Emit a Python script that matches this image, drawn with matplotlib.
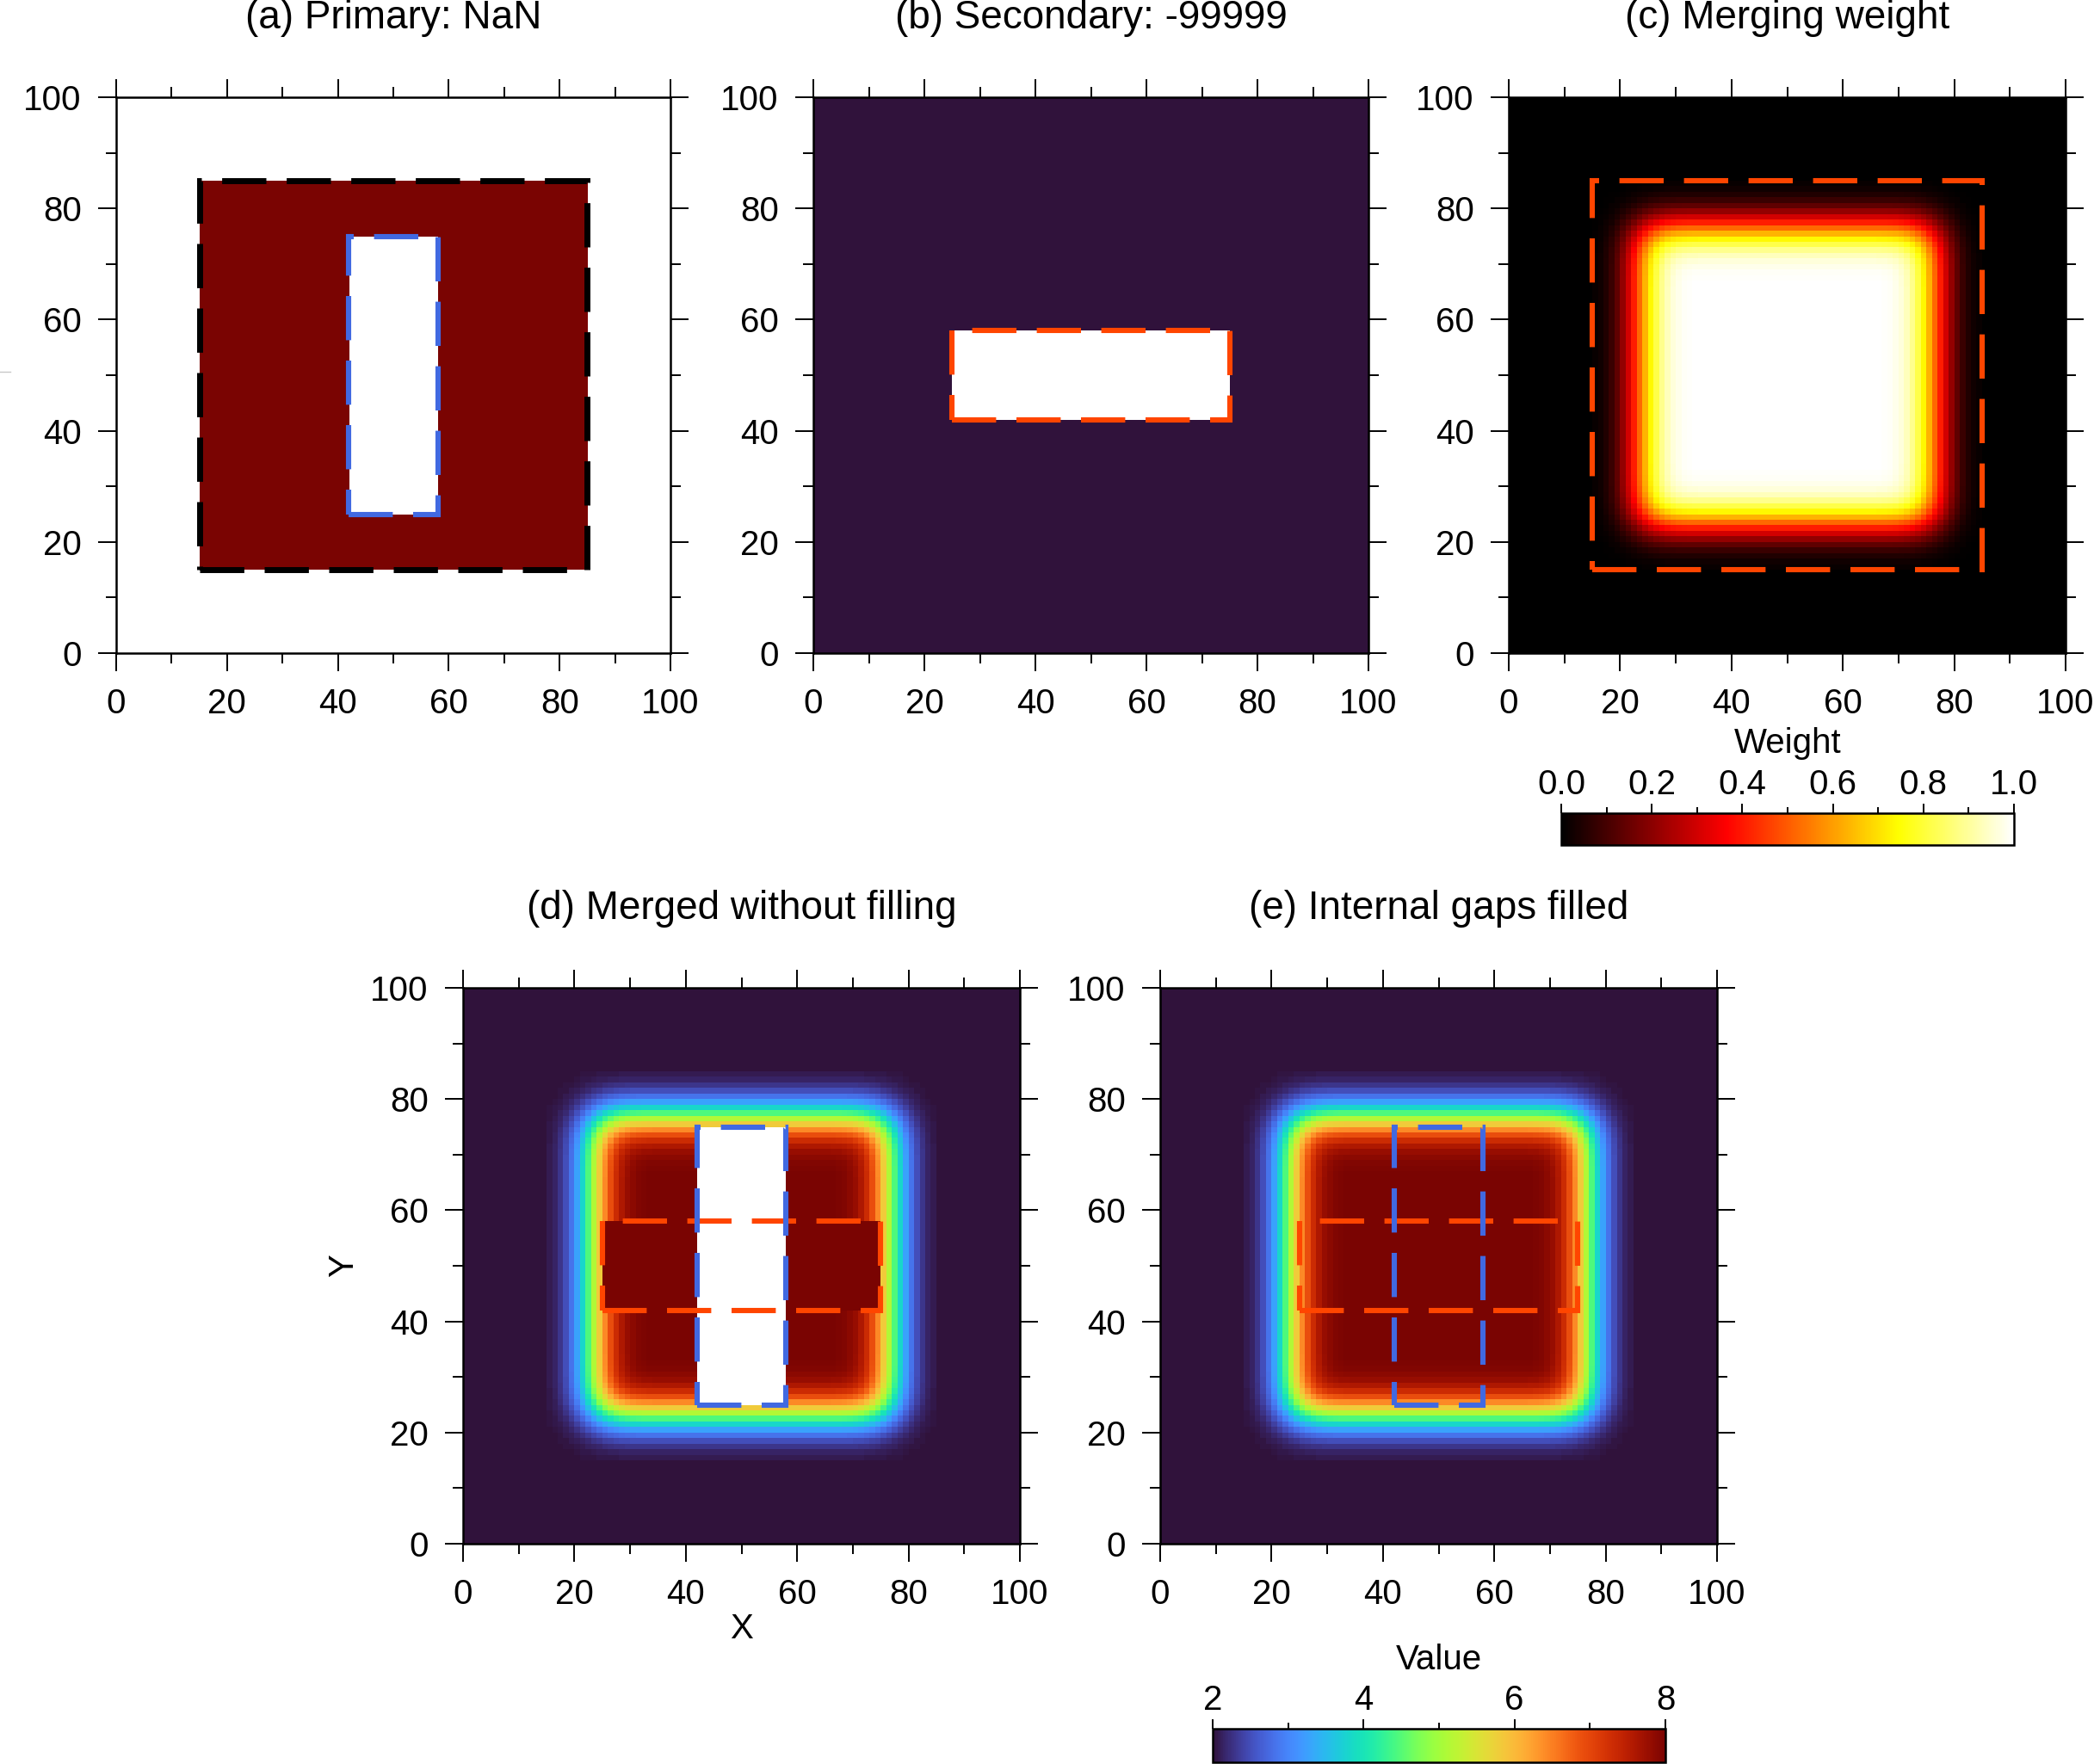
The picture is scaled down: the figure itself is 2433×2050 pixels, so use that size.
import math
import numpy as np
import matplotlib
matplotlib.use("Agg")
import matplotlib.pyplot as plt
from matplotlib.patches import Rectangle
from matplotlib.lines import Line2D
from matplotlib.colors import ListedColormap
from matplotlib.ticker import MultipleLocator, FormatStrFormatter

plt.rcParams['font.family'] = ['Liberation Sans', 'DejaVu Sans']
plt.rcParams['lines.scale_dashes'] = False

# grid and data
n_cells = 100
primary_value = 8.0
secondary_value = 2.0
missing_value = -99999.0
primary_box = [15, 85, 15, 85]        # x0, x1, y0, y1 of primary coverage
primary_gap = [42, 58, 25, 75]        # NaN gap inside primary
secondary_gap = [25, 75, 42, 58]      # -99999 gap inside secondary
taper_mid = 8.3                       # weight = 0.5 this far inside primary edge
taper_sigma = 3.5
value_ticks = [2, 4, 6, 8]
weight_ticks = [0.0, 0.2, 0.4, 0.6, 0.8, 1.0]
axis_ticks = [0, 20, 40, 60, 80, 100]
titles = ["(a) Primary: NaN", "(b) Secondary: -99999", "(c) Merging weight",
          "(d) Merged without filling", "(e) Internal gaps filled"]

xc = np.arange(n_cells) + 0.5
X, Y = np.meshgrid(xc, xc)


def inside(box):
    return (X > box[0]) & (X < box[1]) & (Y > box[2]) & (Y < box[3])


erf = np.vectorize(math.erf)


def ramp(v, lo, hi):
    s = taper_sigma * math.sqrt(2)
    return 0.5 * (erf((v - lo - taper_mid) / s) - erf((v - hi + taper_mid) / s))


primary = np.full(X.shape, np.nan)
primary[inside(primary_box)] = primary_value
primary[inside(primary_gap)] = np.nan

secondary = np.full(X.shape, secondary_value)
secondary[inside(secondary_gap)] = missing_value
secondary_show = np.where(secondary == missing_value, np.nan, secondary)

weight = ramp(X, primary_box[0], primary_box[1]) * ramp(Y, primary_box[2], primary_box[3])
weight[~inside(primary_box)] = 0.0

# merged without filling
merged = weight * np.nan_to_num(primary) + (1 - weight) * secondary_show
merged = np.where(np.isnan(secondary_show), primary, merged)
merged[inside(primary_gap)] = np.nan

# gaps filled
p_fill = np.where(inside(primary_box), primary_value, 0.0)
filled = weight * p_fill + (1 - weight) * secondary_value

# hot colormap that starts at pure black
hot_cols = plt.get_cmap('hot')(np.linspace(0, 1, 256))
hot_cols[:, :3] = np.clip((hot_cols[:, :3] - np.array([0.0416, 0, 0])) /
                          np.array([1 - 0.0416, 1, 1]), 0, 1)
hot_black = ListedColormap(hot_cols)

W, H = 2433, 2050
def pos(x0, y0, x1, y1):
    return [x0 / W, 1 - y1 / H, (x1 - x0) / W, (y1 - y0) / H]

fig = plt.figure(figsize=(W / 100, H / 100), dpi=100)

axes_px = [(135, 113, 779, 759), (945, 113, 1590, 759), (1753, 113, 2400, 759),
           (538, 1148, 1185, 1794), (1348, 1148, 1995, 1794)]
axs = [fig.add_axes(pos(*p)) for p in axes_px]

orange = '#ff4500'
blue = '#4169e1'
dash = (0, (37, 17))


def style(ax, title):
    ax.set_xlim(0, 100)
    ax.set_ylim(0, 100)
    ax.set_xticks(axis_ticks)
    ax.set_yticks(axis_ticks)
    ax.xaxis.set_minor_locator(MultipleLocator(10))
    ax.yaxis.set_minor_locator(MultipleLocator(10))
    ax.tick_params(which='both', direction='out', top=True, right=True,
                   labelsize=29, width=1.4)
    ax.tick_params(which='major', length=15, pad=14)
    ax.tick_params(which='minor', length=8.5)
    for s in ax.spines.values():
        s.set_linewidth(1.8)
        s.set_zorder(5)
    ax.text(0.5, 1.142, title, transform=ax.transAxes, ha='center', va='center', fontsize=33)


def box(ax, b, color, lw=4.4):
    ax.add_patch(Rectangle((b[0], b[2]), b[1] - b[0], b[3] - b[2], fill=False,
                           edgecolor=color, lw=lw, ls=dash, joinstyle='miter',
                           capstyle='butt', zorder=4))


def show(ax, field, cmap, vmin, vmax):
    return ax.imshow(field, origin='lower', extent=(0, 100, 0, 100), cmap=cmap,
                     vmin=vmin, vmax=vmax, interpolation='nearest', aspect='auto')


show(axs[0], primary, 'turbo', 2, 8)
box(axs[0], primary_box, 'black', 5.0)
box(axs[0], primary_gap, blue)

show(axs[1], secondary_show, 'turbo', 2, 8)
box(axs[1], secondary_gap, orange)

im_w = show(axs[2], weight, hot_black, 0, 1)
box(axs[2], primary_box, orange)

im_v = show(axs[3], merged, 'turbo', 2, 8)
box(axs[3], secondary_gap, orange)
box(axs[3], primary_gap, blue)

show(axs[4], filled, 'turbo', 2, 8)
box(axs[4], secondary_gap, orange)
box(axs[4], primary_gap, blue)

for ax, t in zip(axs, titles):
    style(ax, t)

axs[3].text(0.5, -0.153, 'X', transform=axs[3].transAxes, ha='center', va='center', fontsize=29)
axs[3].text(-0.214, 0.5, 'Y', transform=axs[3].transAxes, ha='center', va='center',
            rotation=90, fontsize=29)


def cbar(im, p, ticks, minor, label, label_y, fmt=None):
    cax = fig.add_axes(pos(*p))
    cb = fig.colorbar(im, cax=cax, orientation='horizontal')
    cax.xaxis.set_ticks_position('top')
    cb.set_ticks(ticks)
    cax.xaxis.set_minor_locator(MultipleLocator(minor))
    if fmt:
        cax.xaxis.set_major_formatter(FormatStrFormatter(fmt))
    cax.tick_params(which='both', direction='out', width=1.4, labelsize=29)
    cax.tick_params(which='major', length=8, pad=2)
    cax.tick_params(which='minor', length=5)
    cb.outline.set_linewidth(1.8)
    cax.text(0.5, label_y, label, transform=cax.transAxes, ha='center', va='center', fontsize=29)


cbar(im_w, (1814, 945, 2340, 982), weight_ticks, 0.1, 'Weight', 3.2, '%.1f')
cbar(im_v, (1409, 2009, 1935, 2048), value_ticks, 1, 'Value', 3.05)

fig.add_artist(Line2D([0, 12 / W], [1 - 432 / H, 1 - 432 / H], color='#c8c8c8', lw=1.0))

fig.savefig('out.png', dpi=100)
